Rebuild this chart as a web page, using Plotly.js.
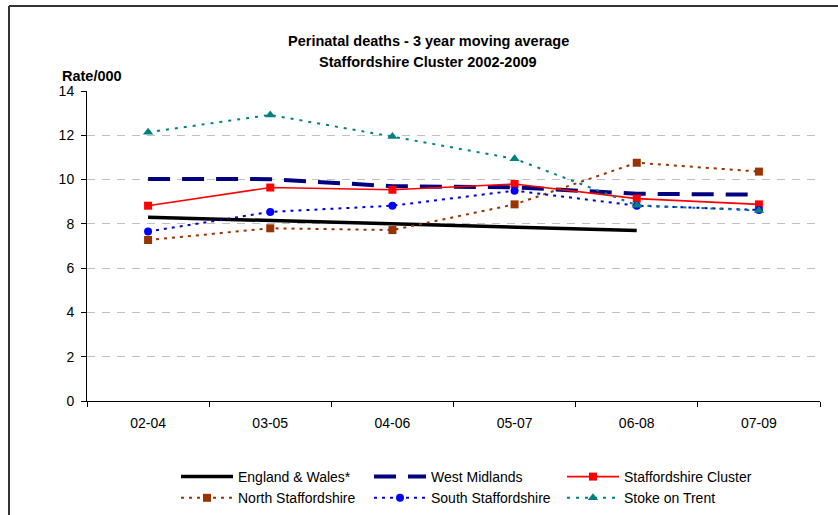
<!DOCTYPE html>
<html><head><meta charset="utf-8">
<script src="https://cdn.plot.ly/plotly-3.0.1.min.js"></script>
<style>html,body{margin:0;padding:0;background:#fff;}#chart{width:838px;height:515px;}</style>
</head><body><div id="chart"></div>
<script>
const periods = ["02-04","03-05","04-06","05-07","06-08","07-09"];
const englandWales = [8.3, 8.15, 8.0, 7.85, 7.7, null];
const westMidlands = [10.03, 10.02, 9.7, 9.65, 9.36, 9.32];
const staffsCluster = [8.82, 9.64, 9.54, 9.8, 9.14, 8.88];
const northStaffs = [7.27, 7.8, 7.72, 8.88, 10.76, 10.36];
const southStaffs = [7.65, 8.54, 8.82, 9.5, 8.82, 8.63];
const stokeOnTrent = [12.14, 12.92, 11.94, 10.94, 8.84, 8.6];
const yTicks = [0, 2, 4, 6, 8, 10, 12, 14];

const traces = [
  {name:"England & Wales*", x:periods, y:englandWales, mode:"lines",
   line:{color:"#000000", width:3.5}},
  {name:"West Midlands", x:periods, y:westMidlands, mode:"lines",
   line:{color:"#000080", width:4, dash:"22px,12px"}},
  {name:"Staffordshire Cluster", x:periods, y:staffsCluster, mode:"lines+markers",
   line:{color:"#FF0000", width:1.6}, marker:{symbol:"square", size:8, color:"#FF0000"}},
  {name:"North Staffordshire", x:periods, y:northStaffs, mode:"lines+markers",
   line:{color:"#993300", width:2, dash:"3px,5px"}, marker:{symbol:"square", size:8, color:"#993300"}},
  {name:"South Staffordshire", x:periods, y:southStaffs, mode:"lines+markers",
   line:{color:"#0000CC", width:2, dash:"3px,5px"}, marker:{symbol:"circle", size:8, color:"#0000FF"}},
  {name:"Stoke on Trent", x:periods, y:stokeOnTrent, mode:"lines+markers",
   line:{color:"#008080", width:2, dash:"3px,6px"}, marker:{symbol:"triangle-up", size:9, color:"#008080"}}
];

const layout = {
  width:838, height:515,
  margin:{l:87, r:18, t:91, b:114, autoexpand:false},
  paper_bgcolor:"#fff", plot_bgcolor:"#fff",
  font:{family:"Liberation Sans, Arial, sans-serif", size:14, color:"#000"},
  showlegend:true,
  legend:{orientation:"h", xref:"container", yref:"container", x:176/838, xanchor:"left",
    y:(515-461)/515, yanchor:"top",
    entrywidth:126, entrywidthmode:"pixels", itemwidth:52,
    font:{size:14, color:"#000"}, bgcolor:"rgba(0,0,0,0)", tracegroupgap:0},
  xaxis:{type:"category", range:[-0.5,5.5], showline:true, linecolor:"#000", linewidth:1,
    ticks:"outside", tickson:"boundaries", ticklen:5, tickcolor:"#000", ticklabelstandoff:9,
    showgrid:false, zeroline:false, tickfont:{size:14}, fixedrange:true},
  yaxis:{range:[0,14], tickvals:yTicks, showline:true, linecolor:"#000", linewidth:1,
    ticks:"outside", ticklen:5, tickcolor:"#000", ticklabelstandoff:4, showgrid:true, gridcolor:"#c0c0c0",
    griddash:"8px,7px", gridwidth:1, zeroline:false, tickfont:{size:14}, fixedrange:true},
  annotations:[
    {text:"<b>Perinatal deaths - 3 year moving average</b>", xref:"paper", yref:"paper",
     x:(428-87)/733, y:(401-41)/310, xanchor:"center", yanchor:"middle", showarrow:false, font:{size:14.5}},
    {text:"<b>Staffordshire Cluster 2002-2009</b>", xref:"paper", yref:"paper",
     x:(428-87)/733, y:(401-62)/310, xanchor:"center", yanchor:"middle", showarrow:false, font:{size:14.5}},
    {text:"<b>Rate/000</b>", xref:"paper", yref:"paper",
     x:(60-87)/733, y:(401-76)/310, xanchor:"left", yanchor:"middle", showarrow:false, font:{size:14.5}}
  ],
  shapes:[
    {type:"line", xref:"paper", yref:"paper", x0:(9-87)/733, x1:(9-87)/733, y0:(401-6)/310, y1:(401-520)/310,
     line:{color:"#333", width:2}},
    {type:"line", xref:"paper", yref:"paper", x0:(9-87)/733, x1:(840-87)/733, y0:(401-6)/310, y1:(401-6)/310,
     line:{color:"#333", width:2}}
  ]
};
Plotly.newPlot("chart", traces, layout, {displayModeBar:false, staticPlot:true});
</script></body></html>
